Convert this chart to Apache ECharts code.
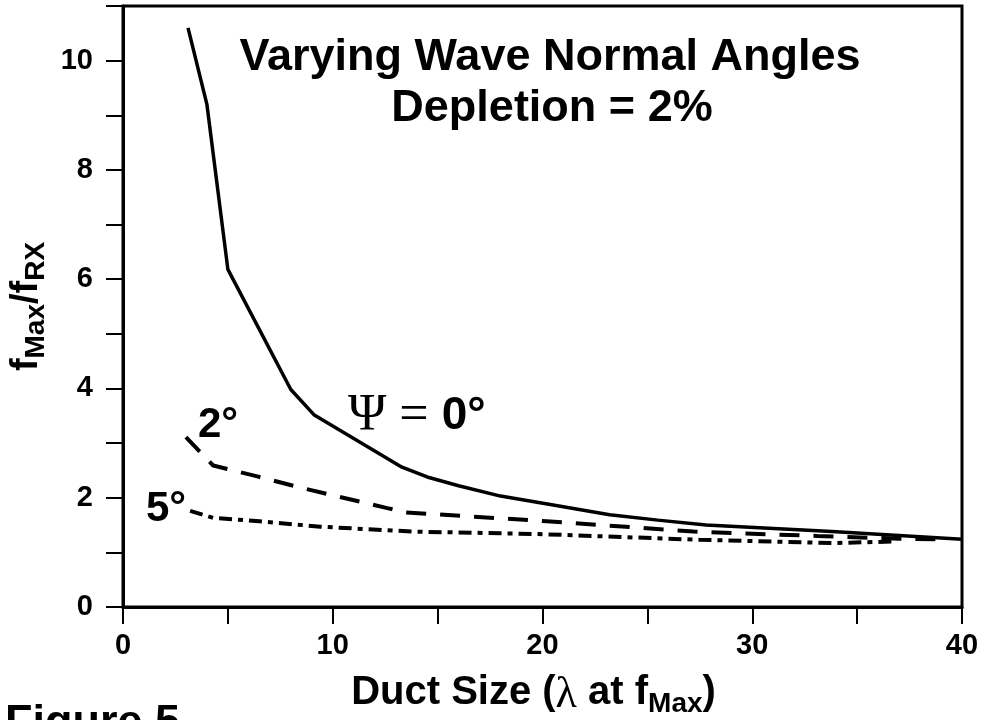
<!DOCTYPE html>
<html>
<head>
<meta charset="utf-8">
<script src="https://cdn.jsdelivr.net/npm/echarts@6/dist/echarts.min.js"></script>
<style>
html,body{margin:0;padding:0;background:#fff;}
#chart{width:985px;height:720px;}
</style>
</head>
<body>
<div id="chart"></div>
<script>
// Data
const psi0X = [3.1, 4.0, 5.0, 8.0, 9.1, 13.3, 14.5, 16.0, 18.0, 20.3, 23.2, 25.5, 27.8, 30.8, 33.8, 37.0, 40.0];
const psi0Y = [10.6, 9.2, 6.18, 3.98, 3.52, 2.56, 2.38, 2.22, 2.03, 1.88, 1.69, 1.59, 1.50, 1.44, 1.38, 1.31, 1.24];

const psi2X = [3.0, 4.3, 6.4, 8.4, 12.6, 13.5, 20.2, 27.2, 33.1, 37.0, 39.0];
const psi2Y = [3.11, 2.59, 2.39, 2.19, 1.81, 1.73, 1.57, 1.38, 1.30, 1.25, 1.24];

const psi5X = [3.2, 4.3, 6.5, 9.4, 13.8, 18.0, 20.2, 27.5, 33.9, 36.9];
const psi5Y = [1.76, 1.63, 1.57, 1.47, 1.38, 1.35, 1.33, 1.23, 1.17, 1.20];

const xTicks = [0, 10, 20, 30, 40];
const yTicks = [0, 2, 4, 6, 8, 10];

const SANS = '"Liberation Sans", Arial, Helvetica, sans-serif';
const SERIF = '"Liberation Serif", "DejaVu Serif", serif';

function pairs(xs, ys) { return xs.map((x, i) => [x, ys[i]]); }

const chart = echarts.init(document.getElementById('chart'), null, {renderer: 'canvas'});

const option = {
  backgroundColor: '#fff',
  animation: false,
  grid: {
    left: 123, right: 23, top: 6, bottom: 113,
    containLabel: false, outerBoundsMode: 'none',
    show: true, borderColor: '#000', borderWidth: 3
  },
  xAxis: {
    type: 'value', min: 0, max: 40, interval: 5,
    axisLine: {show: true, onZero: false, lineStyle: {color: '#000', width: 3}},
    axisTick: {show: true, inside: false, length: 17, lineStyle: {color: '#000', width: 2}},
    splitLine: {show: false},
    axisLabel: {
      margin: 24, color: '#000', fontSize: 29, fontWeight: 'bold', fontFamily: SANS,
      formatter: v => xTicks.includes(v) ? String(v) : ''
    },
    name: '{a|Duct Size (}{l|λ}{a| at f}{s|Max}{e|)}',
    nameLocation: 'middle', nameGap: 66,
    nameTextStyle: {
      rich: {
        a: {fontSize: 40, fontWeight: 'bold', fontFamily: SANS, color: '#000', lineHeight: 48, verticalAlign: 'top'},
        e: {fontSize: 40, fontWeight: 'bold', fontFamily: SANS, color: '#000', lineHeight: 48, verticalAlign: 'top', padding: [0, 18, 0, 0]},
        l: {fontSize: 44, fontWeight: 'normal', fontFamily: SERIF, color: '#000', lineHeight: 48, verticalAlign: 'top'},
        s: {fontSize: 28, fontWeight: 'bold', fontFamily: SANS, color: '#000', lineHeight: 48, verticalAlign: 'top', padding: [17, 0, 0, 0]}
      }
    }
  },
  yAxis: {
    type: 'value', min: 0, max: 11, interval: 1,
    axisLine: {show: true, onZero: false, lineStyle: {color: '#000', width: 3}},
    axisTick: {show: true, inside: false, length: 17, lineStyle: {color: '#000', width: 2}},
    splitLine: {show: false},
    axisLabel: {
      margin: 30, color: '#000', fontSize: 29, fontWeight: 'bold', fontFamily: SANS,
      formatter: v => yTicks.includes(v) ? String(v) : ''
    },
    name: '{m|f}{s|Max}{m|/f}{s|RX}',
    nameLocation: 'middle', nameRotate: 90, nameGap: 68,
    nameTextStyle: {
      rich: {
        m: {fontSize: 38, fontWeight: 'bold', fontFamily: SANS, color: '#000', lineHeight: 44, verticalAlign: 'top'},
        s: {fontSize: 28, fontWeight: 'bold', fontFamily: SANS, color: '#000', lineHeight: 44, verticalAlign: 'top', padding: [14, 0, 0, 0]}
      }
    }
  },
  series: [
    {
      name: 'Ψ = 0°', type: 'line', data: pairs(psi0X, psi0Y),
      showSymbol: false, symbol: 'none', smooth: false,
      lineStyle: {color: '#000', width: 3.5, type: 'solid'}
    },
    {
      name: '2°', type: 'line', data: pairs(psi2X, psi2Y),
      showSymbol: false, symbol: 'none', smooth: false,
      lineStyle: {color: '#000', width: 4, type: [20, 14]}
    },
    {
      name: '5°', type: 'line', data: pairs(psi5X, psi5Y),
      showSymbol: false, symbol: 'none', smooth: false,
      lineStyle: {color: '#000', width: 4, type: [13, 6, 5, 6]}
    }
  ],
  graphic: [
    {type: 'text', x: 550, y: 35, style: {
      text: 'Varying Wave Normal Angles', align: 'center',
      fill: '#000', font: 'bold 45px ' + SANS}},
    {type: 'text', x: 552, y: 86, style: {
      text: 'Depletion = 2%', align: 'center', fill: '#000', font: 'bold 45px ' + SANS}},
    {type: 'text', x: 198, y: 404, style: {
      text: '2°', fill: '#000', font: 'bold 42px ' + SANS}},
    {type: 'text', x: 146, y: 488, style: {
      text: '5°', fill: '#000', font: 'bold 42px ' + SANS}},
    {type: 'text', x: 348, y: 389, style: {
      text: '{p|Ψ}{e| = }{z|0°}',
      rich: {
        p: {fontSize: 52, fontFamily: SERIF, fill: '#000', lineHeight: 54},
        e: {fontSize: 52, fontFamily: SERIF, fill: '#000', lineHeight: 54},
        z: {fontSize: 46, fontWeight: 'bold', fontFamily: SANS, fill: '#000', lineHeight: 54}
      }}},
    {type: 'text', x: 5, y: 701, style: {
      text: 'Figure 5', fill: '#000', font: 'bold 45px ' + SANS}}
  ]
};
chart.setOption(option);
</script>
</body>
</html>
